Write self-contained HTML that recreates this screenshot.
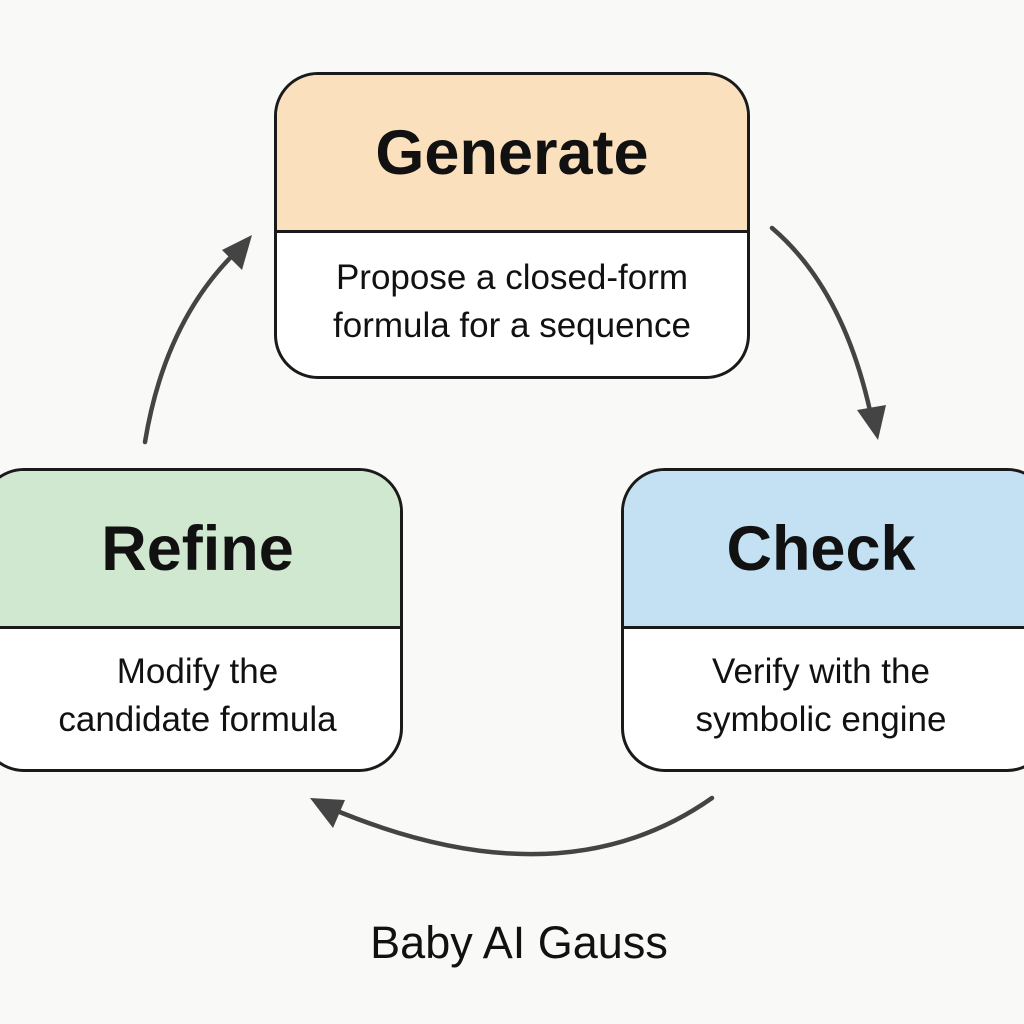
<!DOCTYPE html>
<html><head><style>
html,body{margin:0;padding:0;background:#f9f9f8;}
body{width:1024px;height:1024px;position:relative;overflow:hidden;font-family:"Liberation Sans","DejaVu Sans",sans-serif;color:#111;}
.box{position:absolute;border:3px solid #1a1a1a;border-radius:44px;overflow:hidden;background:#fff;box-sizing:border-box;}
.hd{position:absolute;left:0;right:0;top:0;border-bottom:3px solid #1a1a1a;display:flex;align-items:center;justify-content:center;font-weight:bold;font-size:63px;}
.bd{position:absolute;left:0;right:0;bottom:0;display:flex;align-items:center;justify-content:center;text-align:center;font-size:35px;line-height:48px;padding-bottom:6px;}
</style></head><body>
<div class="box" style="left:274px;top:72px;width:476px;height:307px;">
 <div class="hd" style="height:155px;background:#fbe0bd;">Generate</div>
 <div class="bd" style="top:158px;">Propose a closed-form<br>formula for a sequence</div>
</div>
<div class="box" style="left:-20px;top:468px;width:423px;height:304px;">
 <div class="hd" style="height:155px;background:#d0e8cf;padding-left:12px;">Refine</div>
 <div class="bd" style="top:158px;padding-left:12px;">Modify the<br>candidate formula</div>
</div>
<div class="box" style="left:621px;top:468px;width:430px;height:304px;">
 <div class="hd" style="height:155px;background:#c4e1f4;padding-right:30px;">Check</div>
 <div class="bd" style="top:158px;padding-right:30px;">Verify with the<br>symbolic engine</div>
</div>
<svg width="1024" height="1024" style="position:absolute;left:0;top:0" viewBox="0 0 1024 1024">
<g fill="none" stroke="#444" stroke-width="4.5" stroke-linecap="round">
 <path d="M145,442 Q165,320 238,250"/>
 <path d="M772,228 Q845,290 872,420"/>
 <path d="M712,798 Q560,905 330,808"/>
</g>
<g fill="#444">
 <polygon points="252,235 242,270 222,250"/>
 <polygon points="878,440 857,410 886,405"/>
 <polygon points="310,798 345,800 333,828"/>
</g>
<text x="519" y="958" text-anchor="middle" font-family="Liberation Sans, sans-serif" font-size="45" fill="#111">Baby AI Gauss</text>
</svg>
</body></html>
